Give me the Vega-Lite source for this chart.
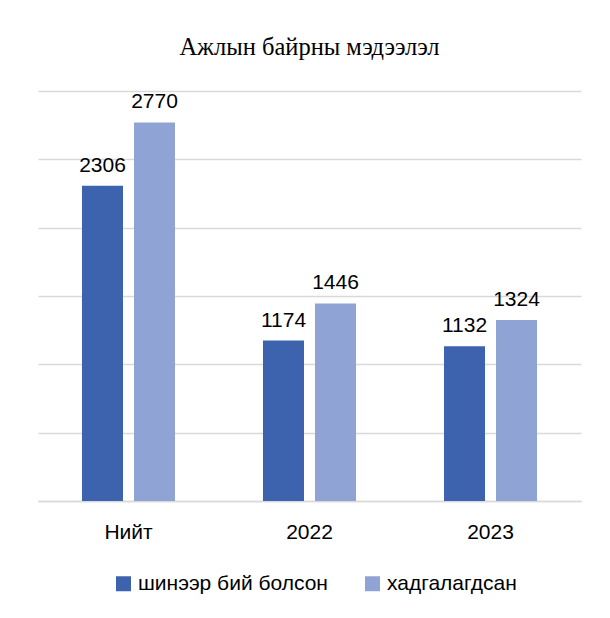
{
  "$schema": "https://vega.github.io/schema/vega-lite/v6.json",
  "width": 543,
  "height": 410,
  "autosize": "none",
  "padding": {"left": 38, "top": 91, "right": 29, "bottom": 117},
  "background": "white",
  "title": {
    "text": "Ажлын байрны мэдээлэл",
    "font": "Liberation Serif",
    "fontSize": 24.5,
    "fontWeight": "normal",
    "color": "#000000",
    "anchor": "middle",
    "offset": 31
  },
  "data": {
    "values": [
      {"category": "Нийт", "series": "шинээр бий болсон", "value": 2306},
      {"category": "Нийт", "series": "хадгалагдсан", "value": 2770},
      {"category": "2022", "series": "шинээр бий болсон", "value": 1174},
      {"category": "2022", "series": "хадгалагдсан", "value": 1446},
      {"category": "2023", "series": "шинээр бий болсон", "value": 1132},
      {"category": "2023", "series": "хадгалагдсан", "value": 1324}
    ]
  },
  "encoding": {
    "x": {
      "field": "category",
      "type": "nominal",
      "sort": ["Нийт", "2022", "2023"],
      "scale": {"paddingInner": 0.486, "paddingOuter": 0.243},
      "axis": {
        "title": null,
        "labelAngle": 0,
        "labelFont": "Liberation Sans",
        "labelFontSize": 21,
        "labelColor": "#000000",
        "labelPadding": 20,
        "ticks": false,
        "domainColor": "#D9D9D9",
        "domainWidth": 1.5
      }
    },
    "xOffset": {
      "field": "series",
      "type": "nominal",
      "sort": ["шинээр бий болсон", "хадгалагдсан"],
      "scale": {"paddingInner": 0.2115, "paddingOuter": 0}
    },
    "y": {
      "field": "value",
      "type": "quantitative",
      "scale": {"domain": [0, 3000]},
      "axis": {
        "title": null,
        "labels": false,
        "ticks": false,
        "domain": false,
        "grid": true,
        "gridColor": "#D9D9D9",
        "gridWidth": 1.5,
        "values": [0, 500, 1000, 1500, 2000, 2500, 3000]
      }
    }
  },
  "layer": [
    {
      "mark": {"type": "bar"},
      "encoding": {
        "color": {
          "field": "series",
          "type": "nominal",
          "sort": ["шинээр бий болсон", "хадгалагдсан"],
          "scale": {"range": ["#3D63AE", "#8FA4D5"]},
          "legend": {
            "title": null,
            "orient": "none",
            "legendX": 75,
            "legendY": 482,
            "direction": "horizontal",
            "symbolType": "square",
            "symbolSize": 225,
            "symbolStrokeWidth": 0,
            "labelFont": "Liberation Sans",
            "labelFontSize": 21,
            "labelColor": "#000000",
            "labelLimit": 0,
            "labelOffset": 4,
            "columnPadding": 34
          }
        }
      }
    },
    {
      "mark": {
        "type": "text",
        "baseline": "alphabetic",
        "dy": -14,
        "font": "Liberation Sans",
        "fontSize": 21,
        "color": "#000000"
      },
      "encoding": {
        "text": {"field": "value", "type": "quantitative", "format": "d"}
      }
    }
  ],
  "config": {
    "view": {"stroke": null}
  }
}
